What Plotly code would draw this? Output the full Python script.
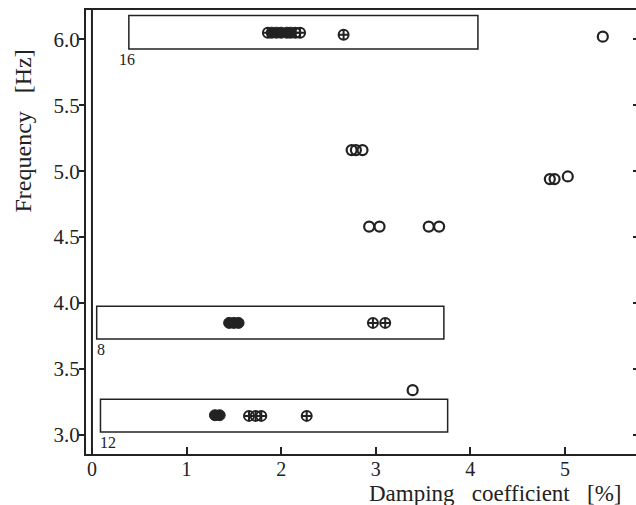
import plotly.graph_objects as go

# ---- data ----
filled_x = [1.30, 1.35, 1.45, 1.50, 1.55, 1.90, 1.95, 2.00, 2.06, 2.10]
filled_y = [3.15, 3.15, 3.85, 3.85, 3.85, 6.05, 6.05, 6.05, 6.05, 6.05]

crossed_x = [1.66, 1.73, 1.79, 2.27, 2.97, 3.10, 1.86, 2.15, 2.20, 2.66]
crossed_y = [3.145, 3.145, 3.145, 3.145, 3.85, 3.85, 6.05, 6.05, 6.05, 6.035]

open_x = [3.39, 2.745, 2.79, 2.86, 4.84, 4.89, 5.03, 2.93, 3.04, 3.56, 3.67, 5.40]
open_y = [3.34, 5.16, 5.16, 5.16, 4.94, 4.94, 4.96, 4.58, 4.58, 4.58, 4.58, 6.02]

box_labels = ["16", "8", "12"]
box_x0 = [0.39, 0.05, 0.09]
box_x1 = [4.08, 3.72, 3.76]
box_y0 = [5.926, 3.728, 3.023]
box_y1 = [6.18, 3.976, 3.271]

x_ticks = [0, 1, 2, 3, 4, 5]
y_ticks = [3.0, 3.5, 4.0, 4.5, 5.0, 5.5, 6.0]
y_ticklabels = ["3.0", "3.5", "4.0", "4.5", "5.0", "5.5", "6.0"]

x_title = "Damping\u00a0\u00a0\u00a0coefficient\u00a0\u00a0\u00a0[%]"
y_title = "Frequency\u00a0\u00a0\u00a0[Hz]"

INK = "#222222"
FONT = "Liberation Serif"

fig = go.Figure()
fig.add_trace(go.Scatter(x=open_x, y=open_y, mode="markers",
                         marker=dict(symbol="circle-open", size=10, color=INK,
                                     line=dict(width=2.2, color=INK))))
fig.add_trace(go.Scatter(x=crossed_x, y=crossed_y, mode="markers",
                         marker=dict(symbol="circle-cross-open", size=10, color=INK,
                                     line=dict(width=2, color=INK))))
fig.add_trace(go.Scatter(x=filled_x, y=filled_y, mode="markers",
                         marker=dict(symbol="circle", size=11, color=INK,
                                     line=dict(width=1, color=INK))))
# invisible trace to activate right-side tick axis
fig.add_trace(go.Scatter(x=[0], y=[3.0], yaxis="y2", mode="markers",
                         marker=dict(size=1, opacity=0), hoverinfo="skip"))

shapes = []
annotations = []
for lab, x0, x1, y0, y1 in zip(box_labels, box_x0, box_x1, box_y0, box_y1):
    shapes.append(dict(type="rect", xref="x", yref="y", x0=x0, x1=x1, y0=y0, y1=y1,
                       line=dict(color=INK, width=1.5), layer="below"))
    annotations.append(dict(x=x0, y=y0, xref="x", yref="y", text=lab, showarrow=False,
                            xanchor="left", yanchor="top", xshift=-12 if lab == "16" else -2,
                            font=dict(family=FONT, size=16, color=INK)))
# inner line of the doubled left axis at x = 0
shapes.append(dict(type="line", xref="x", yref="paper", x0=0, x1=0, y0=0, y1=1,
                   line=dict(color=INK, width=2)))

annotations.append(dict(x=0.977, y=-0.09, xref="paper", yref="paper",
                        text=x_title, showarrow=False,
                        xanchor="right", yanchor="middle",
                        font=dict(family=FONT, size=23, color=INK)))
annotations.append(dict(x=-0.114, y=0.727, xref="paper", yref="paper",
                        text=y_title, showarrow=False, textangle=-90,
                        xanchor="center", yanchor="middle",
                        font=dict(family=FONT, size=24, color=INK)))

fig.update_layout(
    width=636, height=505,
    margin=dict(l=86, r=0, t=10, b=51),
    paper_bgcolor="white", plot_bgcolor="white",
    showlegend=False,
    shapes=shapes, annotations=annotations,
    xaxis=dict(range=[-0.063, 5.751], tickvals=x_ticks, ticktext=[str(v) for v in x_ticks],
               showgrid=False, zeroline=False, showline=True, linecolor=INK, linewidth=2,
               mirror=True, ticks="inside", ticklen=7, tickwidth=1.5, tickcolor=INK,
               ticklabelstandoff=-4,
               tickfont=dict(family=FONT, size=20, color=INK)),
    yaxis=dict(range=[2.856, 6.222], tickvals=y_ticks, ticktext=y_ticklabels,
               showgrid=False, zeroline=False, showline=True, linecolor=INK, linewidth=2,
               ticks="outside", ticklen=5, tickwidth=1.5, tickcolor=INK,
               ticklabelstandoff=-5,
               tickfont=dict(family=FONT, size=21, color=INK)),
    yaxis2=dict(range=[2.856, 6.222], overlaying="y", side="right", tickvals=y_ticks,
                showticklabels=False, showgrid=False, zeroline=False, showline=False,
                ticks="inside", ticklen=3, tickwidth=1.5, tickcolor=INK),
)

fig.write_html("out.html")
